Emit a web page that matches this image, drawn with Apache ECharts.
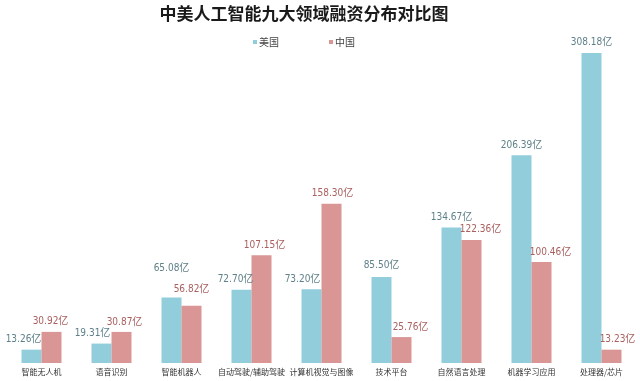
<!DOCTYPE html>
<html>
<head>
<meta charset="utf-8">
<script src="https://cdn.jsdelivr.net/npm/echarts@6/dist/echarts.min.js"></script>
<style>html,body{margin:0;padding:0;background:#fff}#c{width:640px;height:381px}</style>
</head>
<body>
<div id="c"></div>
<script>
const categories = ['智能无人机','语音识别','智能机器人','自动驾驶/辅助驾驶','计算机视觉与图像','技术平台','自然语言处理','机器学习应用','处理器/芯片'];
const usValues = [13.26, 19.31, 65.08, 72.70, 73.20, 85.50, 134.67, 206.39, 308.18];
const cnValues = [30.92, 30.87, 56.82, 107.15, 158.30, 25.76, 122.36, 100.46, 13.23];
const seriesNames = ['美国','中国'];
const titleText = '中美人工智能九大领域融资分布对比图';

// label nudges (styling only)
const usLabelOffsets = [[-8,0],[-9,0],[0,-19],[-6,0],[-9,0],[0,-2],[0,0],[0,0],[0,0]];
const cnLabelOffsets = [[-1,0],[3,0],[0,-6],[3,0],[1,0],[9,0],[9,0],[9,0],[6,0]];

const usColor = '#92cddc', cnColor = '#d99694';
const usLabelColor = '#5f8089', cnLabelColor = '#a9605f';
const fontFam = '"Noto Sans CJK SC", "Liberation Sans", sans-serif';
const labelFam = '"Liberation Sans Narrow", "DejaVu Sans Condensed", "Noto Sans CJK SC", sans-serif';

function mk(values, offsets){
  return values.map((v,i)=>({value:v, label:{offset:offsets[i]}}));
}

const chart = echarts.init(document.getElementById('c'), null, {renderer:'canvas'});
chart.setOption({
  animation:false,
  title:{text:titleText, left:299, textAlign:'center', top:0,
    textStyle:{fontSize:17, fontWeight:'bold', color:'#1a1a1a', fontFamily:fontFam}},
  legend:{data:seriesNames, left:248, top:32, icon:'rect', itemWidth:4, itemHeight:4, itemGap:50,
    textStyle:{fontSize:10, color:'#444', fontFamily:fontFam, padding:[0,0,0,-3]}},
  grid:{left:6.5, right:3.5, top:41, bottom:18},
  xAxis:{type:'category', data:categories,
    axisLine:{show:false}, axisTick:{show:false},
    axisLabel:{fontSize:8, color:'#333', margin:5, interval:0, fontFamily:fontFam}},
  yAxis:{type:'value', min:0, max:320, show:false, splitLine:{show:false}},
  series:[
    {name:seriesNames[0], type:'bar', barWidth:20, barGap:'0%', itemStyle:{color:usColor},
     data:mk(usValues, usLabelOffsets),
     label:{show:true, position:'top', distance:5, fontSize:10, color:usLabelColor, fontFamily:labelFam,
       formatter:p=>p.value.toFixed(2)+'亿'}},
    {name:seriesNames[1], type:'bar', barWidth:20, barGap:'0%', itemStyle:{color:cnColor},
     data:mk(cnValues, cnLabelOffsets),
     label:{show:true, position:'top', distance:5, fontSize:10, color:cnLabelColor, fontFamily:labelFam,
       formatter:p=>p.value.toFixed(2)+'亿'}}
  ]
});
</script>
</body>
</html>
